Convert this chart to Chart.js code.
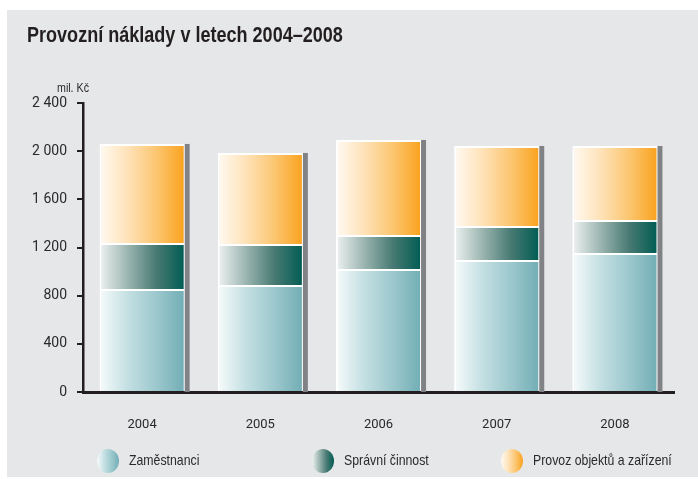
<!DOCTYPE html>
<html>
<head>
<meta charset="utf-8">
<title>Provozní náklady</title>
<script src="https://cdn.jsdelivr.net/npm/chart.js@4.4.1/dist/chart.umd.min.js"></script>
<style>
  html, body { margin: 0; padding: 0; background: #fff; }
  #wrap { width: 698px; height: 479px; position: relative; }
</style>
</head>
<body>
<div id="wrap"><canvas id="naklady"></canvas></div>
<script>
// roky a hodnoty (mil. Kč)
const years = ['2004', '2005', '2006', '2007', '2008'];
const zamestnanci = [855, 889, 1022, 1096, 1154];
const spravniCinnost = [382, 340, 282, 283, 275];
const provozObjektu = [823, 756, 789, 664, 614];
const yTicks = [0, 400, 800, 1200, 1600, 2000, 2400];

const seriesNames = ['Zaměstnanci', 'Správní činnost', 'Provoz objektů a zařízení'];

const FONT = '"Liberation Sans", Arial, sans-serif';
const TICK_FONT = 'Roboto, "Liberation Sans", sans-serif';
const NARROW = 0.82; // zúžení písma vlastních popisků
const TEXT = '#2b2a2b';
const BAR_PCT = 0.72;

// přechody zleva doprava, od bílé k plné barvě
const gradTeal = ['#f7fbfb', '#c3dfe2', '#9cc8cd', '#72adb5'];
const gradGreen = ['#eef2f1', '#9bb5b0', '#487a73', '#005c53'];
const gradOrange = ['#fffaf2', '#fee2b8', '#fcc671', '#f9a21d'];

function barFill(stops) {
  return (c) => {
    const chart = c.chart;
    const xs = chart.scales.x;
    if (!xs || c.dataIndex === undefined) return stops[stops.length - 1];
    const w = xs.width / years.length * BAR_PCT;
    const cx = xs.getPixelForValue(c.dataIndex);
    if (!isFinite(w) || !isFinite(cx)) return stops[stops.length - 1];
    const g = chart.ctx.createLinearGradient(cx - w / 2, 0, cx + w / 2, 0);
    stops.forEach((s, i) => g.addColorStop(i / (stops.length - 1), s));
    return g;
  };
}

function fmt(v) {
  return String(v).replace(/\B(?=(\d{3})+(?!\d))/g, ' ');
}

function narrowText(ctx, text, x, y, font, color) {
  ctx.save();
  ctx.translate(x, y);
  ctx.scale(NARROW, 1);
  ctx.font = font;
  ctx.fillStyle = color;
  ctx.textBaseline = 'middle';
  ctx.textAlign = 'left';
  ctx.fillText(text, 0, 0);
  ctx.restore();
}

// šedé pozadí, nadpis, jednotka a legenda
const decor = {
  id: 'decor',
  beforeDraw(chart) {
    const ctx = chart.ctx;
    ctx.save();
    ctx.fillStyle = '#ffffff';
    ctx.fillRect(0, 0, chart.width, chart.height);
    ctx.fillStyle = '#e6e7e8';
    ctx.fillRect(7, 10, chart.width - 7, 467);
    ctx.restore();
    narrowText(ctx, 'Provozní náklady v letech 2004–2008', 27, 36, 'bold 22px ' + FONT, '#231f20');
    narrowText(ctx, 'mil. Kč', 57, 88, '13px ' + FONT, TEXT);
  },
  beforeDatasetsDraw(chart) {
    // stín vpravo od každého sloupce
    const ctx = chart.ctx;
    const top = chart.getDatasetMeta(chart.data.datasets.length - 1);
    const base = chart.scales.y.getPixelForValue(0);
    ctx.save();
    ctx.fillStyle = '#808285';
    top.data.forEach((bar) => {
      const right = bar.x + bar.width / 2;
      ctx.fillRect(right, bar.y, 5, base - bar.y);
    });
    ctx.restore();
  },
  afterDraw(chart) {
    const ctx = chart.ctx;
    const items = [
      { x: 108, stops: gradTeal },
      { x: 323, stops: gradGreen },
      { x: 512, stops: gradOrange }
    ];
    const cy = 461;
    items.forEach((it, i) => {
      ctx.save();
      const g = ctx.createLinearGradient(it.x - 11, 0, it.x + 11, 0);
      it.stops.forEach((s, k) => g.addColorStop(k / (it.stops.length - 1), s));
      ctx.fillStyle = g;
      ctx.beginPath();
      ctx.ellipse(it.x, cy, 11, 12, 0, 0, Math.PI * 2);
      ctx.fill();
      ctx.restore();
      narrowText(ctx, seriesNames[i], it.x + 21, cy, '15px ' + FONT, TEXT);
    });
  }
};

const common = {
  borderColor: '#ffffff',
  borderWidth: { top: 2, left: 2, right: 1, bottom: 0 },
  borderSkipped: false,
  barPercentage: BAR_PCT,
  categoryPercentage: 1
};

new Chart(document.getElementById('naklady'), {
  type: 'bar',
  data: {
    labels: years,
    datasets: [
      Object.assign({ label: seriesNames[0], data: zamestnanci, backgroundColor: barFill(gradTeal) }, common),
      Object.assign({ label: seriesNames[1], data: spravniCinnost, backgroundColor: barFill(gradGreen) }, common),
      Object.assign({ label: seriesNames[2], data: provozObjektu, backgroundColor: barFill(gradOrange) }, common)
    ]
  },
  options: {
    responsive: true,
    maintainAspectRatio: false,
    animation: false,
    events: [],
    layout: { padding: { top: 103, left: 0, right: 24, bottom: 0 } },
    plugins: {
      legend: { display: false },
      title: { display: false },
      tooltip: { enabled: false }
    },
    scales: {
      x: {
        stacked: true,
        afterFit(s) { s.height = 87; },
        grid: { display: true, drawOnChartArea: false, drawTicks: false },
        border: { display: true, color: '#231f20', width: 3 },
        ticks: { color: TEXT, font: { family: TICK_FONT, size: 13 }, padding: 25 }
      },
      y: {
        stacked: true,
        min: 0,
        max: 2400,
        afterFit(s) { s.width = 83; },
        afterBuildTicks(s) { s.ticks = yTicks.map(v => ({ value: v })); },
        grid: { drawOnChartArea: false, drawTicks: true, tickLength: 6, color: '#231f20', lineWidth: 2 },
        border: { display: true, color: '#231f20', width: 2.5 },
        ticks: {
          color: TEXT,
          font: { family: TICK_FONT, size: 14 },
          padding: 10,
          callback: (v) => fmt(v)
        }
      }
    }
  },
  plugins: [decor]
});
</script>
</body>
</html>
